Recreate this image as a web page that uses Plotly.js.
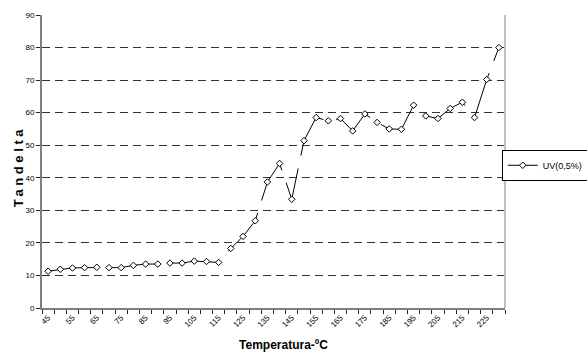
<!DOCTYPE html>
<html>
<head>
<meta charset="utf-8">
<script src="https://cdn.plot.ly/plotly-3.0.1.min.js"></script>
<style>
  html, body { margin: 0; padding: 0; background: #fff; }
  #chart { width: 587px; height: 356px; }
</style>
</head>
<body>
<div id="chart"></div>
<script>
// Temperatures (ºC), one category every 5 degrees
var temperatures = [45, 50, 55, 60, 65, 70, 75, 80, 85, 90, 95, 100, 105, 110, 115,
  120, 125, 130, 135, 140, 145, 150, 155, 160, 165, 170, 175, 180, 185, 190,
  195, 200, 205, 210, 215, 220, 225, 230];

// Tan delta values for series UV(0,5%)
var tanDeltaUV = [11.3, 11.9, 12.3, 12.4, 12.5, 12.4, 12.4, 13.1, 13.5, 13.5, 13.8, 13.8, 14.4, 14.3, 14.0,
  18.3, 22.0, 26.8, 38.7, 44.4, 33.4, 51.4, 58.5, 57.5, 58.2, 54.4, 59.6, 57.0, 55.0, 54.9,
  62.3, 59.0, 58.2, 61.3, 63.2, 58.5, 70.2, 80.0];

// Labelled x ticks (every other category)
var xTickValues = [45, 55, 65, 75, 85, 95, 105, 115, 125, 135, 145, 155, 165, 175, 185, 195, 205, 215, 225];
var xTickLabels = ['45', '55', '65', '75', '85', '95', '105', '115', '125', '135', '145', '155', '165', '175', '185', '195', '205', '215', '225'];

var seriesName = 'UV(0,5%)';

var tickFont = { family: '"Liberation Sans Narrow", "Liberation Sans", Arial, sans-serif', size: 8, color: '#000' };
var titleFont = { family: '"Liberation Sans", Arial, sans-serif', size: 12, color: '#000', weight: 'bold' };

var trace = {
  x: temperatures,
  y: tanDeltaUV,
  type: 'scatter',
  mode: 'lines+markers',
  name: seriesName,
  line: { color: '#000', width: 1, dash: '49px,13px' },
  marker: { symbol: 'diamond', size: 5, color: '#fff', line: { color: '#000', width: 1 } }
};

var layout = {
  width: 587,
  height: 356,
  margin: { l: 42, r: 82, t: 15, b: 48, autoexpand: false },
  paper_bgcolor: '#fff',
  plot_bgcolor: '#fff',
  showlegend: true,
  legend: {
    x: 0.993, xanchor: 'left',
    y: 0.54, yanchor: 'top',
    bgcolor: '#fff',
    bordercolor: '#000',
    borderwidth: 1,
    itemwidth: 30,
    font: { family: '"Liberation Sans", Arial, sans-serif', size: 9, color: '#000' }
  },
  xaxis: {
    type: 'linear',
    range: [42.5, 232.5],
    tickmode: 'array',
    tickvals: xTickValues,
    ticktext: xTickLabels,
    ticks: '',
    tickangle: -45,
    tickfont: tickFont,
    showgrid: false,
    zeroline: false,
    showline: true,
    linecolor: '#7f7f7f',
    linewidth: 2,
    minor: { tickmode: 'linear', tick0: 42.5, dtick: 5, ticks: 'outside', ticklen: 4, tickcolor: '#222', tickwidth: 1, showgrid: false },
    title: { text: 'Temperatura-ºC', font: titleFont, standoff: 12 }
  },
  yaxis: {
    range: [0, 90],
    tickmode: 'linear',
    tick0: 0,
    dtick: 10,
    ticks: 'outside',
    ticklen: 4,
    tickcolor: '#222',
    tickfont: tickFont,
    showgrid: true,
    gridcolor: '#333',
    gridwidth: 1,
    griddash: '8px,5px',
    zeroline: false,
    showline: true,
    linecolor: '#7f7f7f',
    linewidth: 2,
    title: { text: 'Tandelta', font: { family: '"Liberation Sans", Arial, sans-serif', size: 13, color: '#000', weight: 'bold' }, standoff: 2 }
  },
  shapes: [
    { type: 'line', xref: 'paper', yref: 'paper', x0: 1, x1: 1, y0: 0, y1: 1, line: { color: '#c0c0c0', width: 2 } }
  ]
};

Plotly.newPlot('chart', [trace], layout, { displayModeBar: false, staticPlot: true }).then(function () {
  var yt = document.querySelector('.g-ytitle text');
  if (yt) { yt.setAttribute('letter-spacing', '3.6px'); yt.style.letterSpacing = '3.6px'; }
  var ytg = document.querySelector('.g-ytitle');
  if (ytg) { ytg.setAttribute('transform', 'translate(3,5)'); }
  var xtg = document.querySelector('.g-xtitle');
  if (xtg) { xtg.setAttribute('transform', 'translate(10,0)'); }
});
</script>
</body>
</html>
